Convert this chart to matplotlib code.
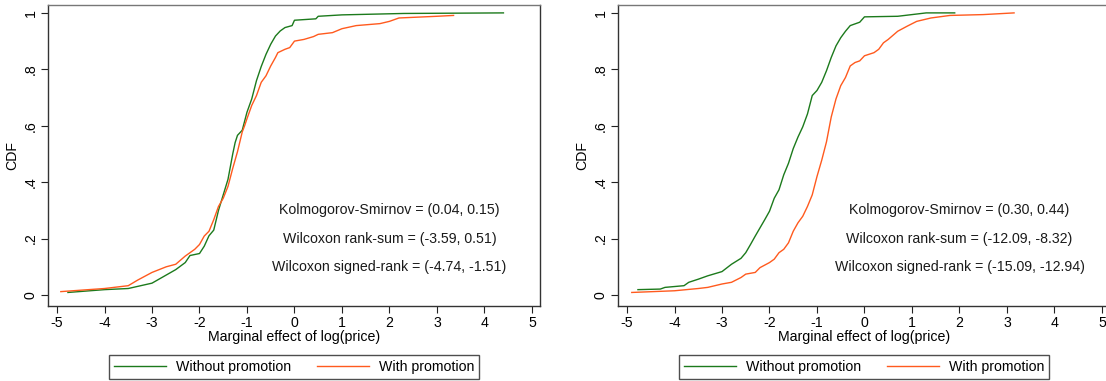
import matplotlib
matplotlib.use("Agg")
import matplotlib.pyplot as plt

plt.rcParams['font.family'] = ['Liberation Sans', 'DejaVu Sans']

# ---- data (x = marginal effect, y = CDF) ----
left_without_x = [-4.77, -4.0, -3.5, -3.0, -2.5, -2.3, -2.2, -2.0, -1.9, -1.8, -1.7, -1.6,
                  -1.5, -1.4, -1.3, -1.25, -1.2, -1.1, -1.0, -0.9, -0.8, -0.7, -0.6, -0.5,
                  -0.4, -0.3, -0.2, -0.05, 0.0, 0.45, 0.5, 1.0, 2.3, 4.4]
left_without_y = [0.009, 0.019, 0.023, 0.042, 0.09, 0.115, 0.14, 0.147, 0.173, 0.21, 0.23, 0.30,
                  0.355, 0.41, 0.50, 0.54, 0.566, 0.584, 0.648, 0.695, 0.76, 0.81, 0.853, 0.889,
                  0.918, 0.936, 0.948, 0.955, 0.974, 0.979, 0.988, 0.993, 0.998, 1.0]

left_with_x = [-4.92, -4.0, -3.5, -3.3, -3.0, -2.7, -2.5, -2.3, -2.1, -2.0, -1.9, -1.8, -1.7,
               -1.6, -1.5, -1.4, -1.3, -1.2, -1.1, -1.05, -1.0, -0.9, -0.8, -0.7, -0.6, -0.5,
               -0.4, -0.35, -0.2, -0.1, 0.0, 0.2, 0.4, 0.5, 0.8, 1.0, 1.3, 1.8, 2.0, 2.2, 3.0, 3.35]
left_with_y = [0.012, 0.023, 0.033, 0.053, 0.08, 0.10, 0.109, 0.138, 0.162, 0.179, 0.209, 0.226, 0.267,
               0.314, 0.343, 0.385, 0.449, 0.508, 0.578, 0.60, 0.625, 0.672, 0.707, 0.754, 0.777, 0.812,
               0.842, 0.859, 0.871, 0.877, 0.90, 0.906, 0.916, 0.924, 0.93, 0.944, 0.955, 0.962, 0.97,
               0.982, 0.988, 0.991]

right_without_x = [-4.77, -4.3, -4.2, -3.8, -3.7, -3.5, -3.3, -3.0, -2.8, -2.6, -2.5, -2.4, -2.3,
                   -2.2, -2.1, -2.0, -1.9, -1.8, -1.7, -1.6, -1.5, -1.4, -1.3, -1.2, -1.1, -1.0,
                   -0.9, -0.8, -0.7, -0.6, -0.5, -0.4, -0.3, -0.1, 0.0, 0.7, 1.0, 1.3, 1.9]
right_without_y = [0.019, 0.021, 0.027, 0.033, 0.045, 0.056, 0.068, 0.083, 0.109, 0.13, 0.15, 0.179, 0.209,
                   0.238, 0.267, 0.297, 0.343, 0.373, 0.426, 0.467, 0.519, 0.56, 0.596, 0.642, 0.707, 0.725,
                   0.754, 0.795, 0.842, 0.883, 0.912, 0.935, 0.955, 0.967, 0.986, 0.988, 0.994, 1.0, 1.0]

right_with_x = [-4.9, -4.0, -3.5, -3.3, -3.0, -2.8, -2.6, -2.5, -2.3, -2.2, -2.0, -1.9, -1.8, -1.7,
                -1.6, -1.5, -1.4, -1.3, -1.2, -1.1, -1.0, -0.9, -0.8, -0.7, -0.6, -0.5, -0.4, -0.3,
                -0.2, -0.1, 0.0, 0.2, 0.3, 0.4, 0.5, 0.7, 0.9, 1.1, 1.4, 1.8, 2.5, 3.15]
right_with_y = [0.009, 0.015, 0.023, 0.027, 0.039, 0.045, 0.062, 0.074, 0.08, 0.097, 0.115, 0.127, 0.15, 0.162,
                0.185, 0.226, 0.256, 0.279, 0.314, 0.355, 0.42, 0.478, 0.543, 0.631, 0.695, 0.742, 0.771, 0.812,
                0.824, 0.83, 0.848, 0.859, 0.871, 0.894, 0.906, 0.935, 0.953, 0.97, 0.982, 0.991, 0.994, 1.0]

left_stats = ["Kolmogorov-Smirnov = (0.04, 0.15)",
              "Wilcoxon rank-sum = (-3.59, 0.51)",
              "Wilcoxon signed-rank = (-4.74, -1.51)"]
right_stats = ["Kolmogorov-Smirnov = (0.30, 0.44)",
               "Wilcoxon rank-sum = (-12.09, -8.32)",
               "Wilcoxon signed-rank = (-15.09, -12.94)"]
stat_y = [0.3, 0.2, 0.1]
stat_x = 2.0

xticks = [-5, -4, -3, -2, -1, 0, 1, 2, 3, 4, 5]
yticks = [0, 0.2, 0.4, 0.6, 0.8, 1.0]
ytick_labels = ["0", ".2", ".4", ".6", ".8", "1"]

series_labels = ["Without promotion", "With promotion"]
GREEN = "#1c7a1c"
ORANGE = "#ff5a1e"

FS = 10.2

fig = plt.figure(figsize=(11.06, 3.81), dpi=100)
W, H = 1106.0, 381.0
ax_w = 492 / W
ax_h = 301 / H
ax_b = 1 - 306 / H
axL = fig.add_axes([48 / W, ax_b, ax_w, ax_h])
axR = fig.add_axes([618 / W, ax_b, ax_w, ax_h])

panels = [
    (axL, left_without_x, left_without_y, left_with_x, left_with_y, left_stats),
    (axR, right_without_x, right_without_y, right_with_x, right_with_y, right_stats),
]

for ax, gx, gy, ox, oy, stats in panels:
    ax.plot(gx, gy, color=GREEN, lw=1.0, label=series_labels[0])
    ax.plot(ox, oy, color=ORANGE, lw=1.0, label=series_labels[1])
    ax.set_xlim(-5.19, 5.17)
    ax.set_ylim(-0.039, 1.028)
    ax.set_xticks(xticks)
    ax.set_xticklabels([str(t) for t in xticks], fontsize=FS)
    ax.set_yticks(yticks)
    ax.set_yticklabels(ytick_labels, fontsize=FS, rotation=90, va='center')
    ax.tick_params(axis='both', direction='out', length=5, width=0.8, color='#222222', pad=2.5)
    ax.set_xlabel("Marginal effect of log(price)", fontsize=FS, labelpad=0)
    ax.set_ylabel("CDF", fontsize=FS, labelpad=3)
    for s in ax.spines.values():
        s.set_linewidth(1.0)
        s.set_color('#333333')
    ax.spines['top'].set_color('#777777')
    for t, yv in zip(stats, stat_y):
        ax.text(stat_x, yv, t, ha='center', va='center', fontsize=FS, color='#1a1a1a')
    leg = ax.legend(loc='upper center', bbox_to_anchor=(0.5, -0.163), ncol=2,
                    fontsize=FS, frameon=True, fancybox=False, edgecolor='#222222',
                    handlelength=3.7, handletextpad=0.7, columnspacing=1.8,
                    borderpad=0.35, borderaxespad=0)
    leg.get_frame().set_linewidth(1.0)

fig.savefig("out.png", dpi=100)
